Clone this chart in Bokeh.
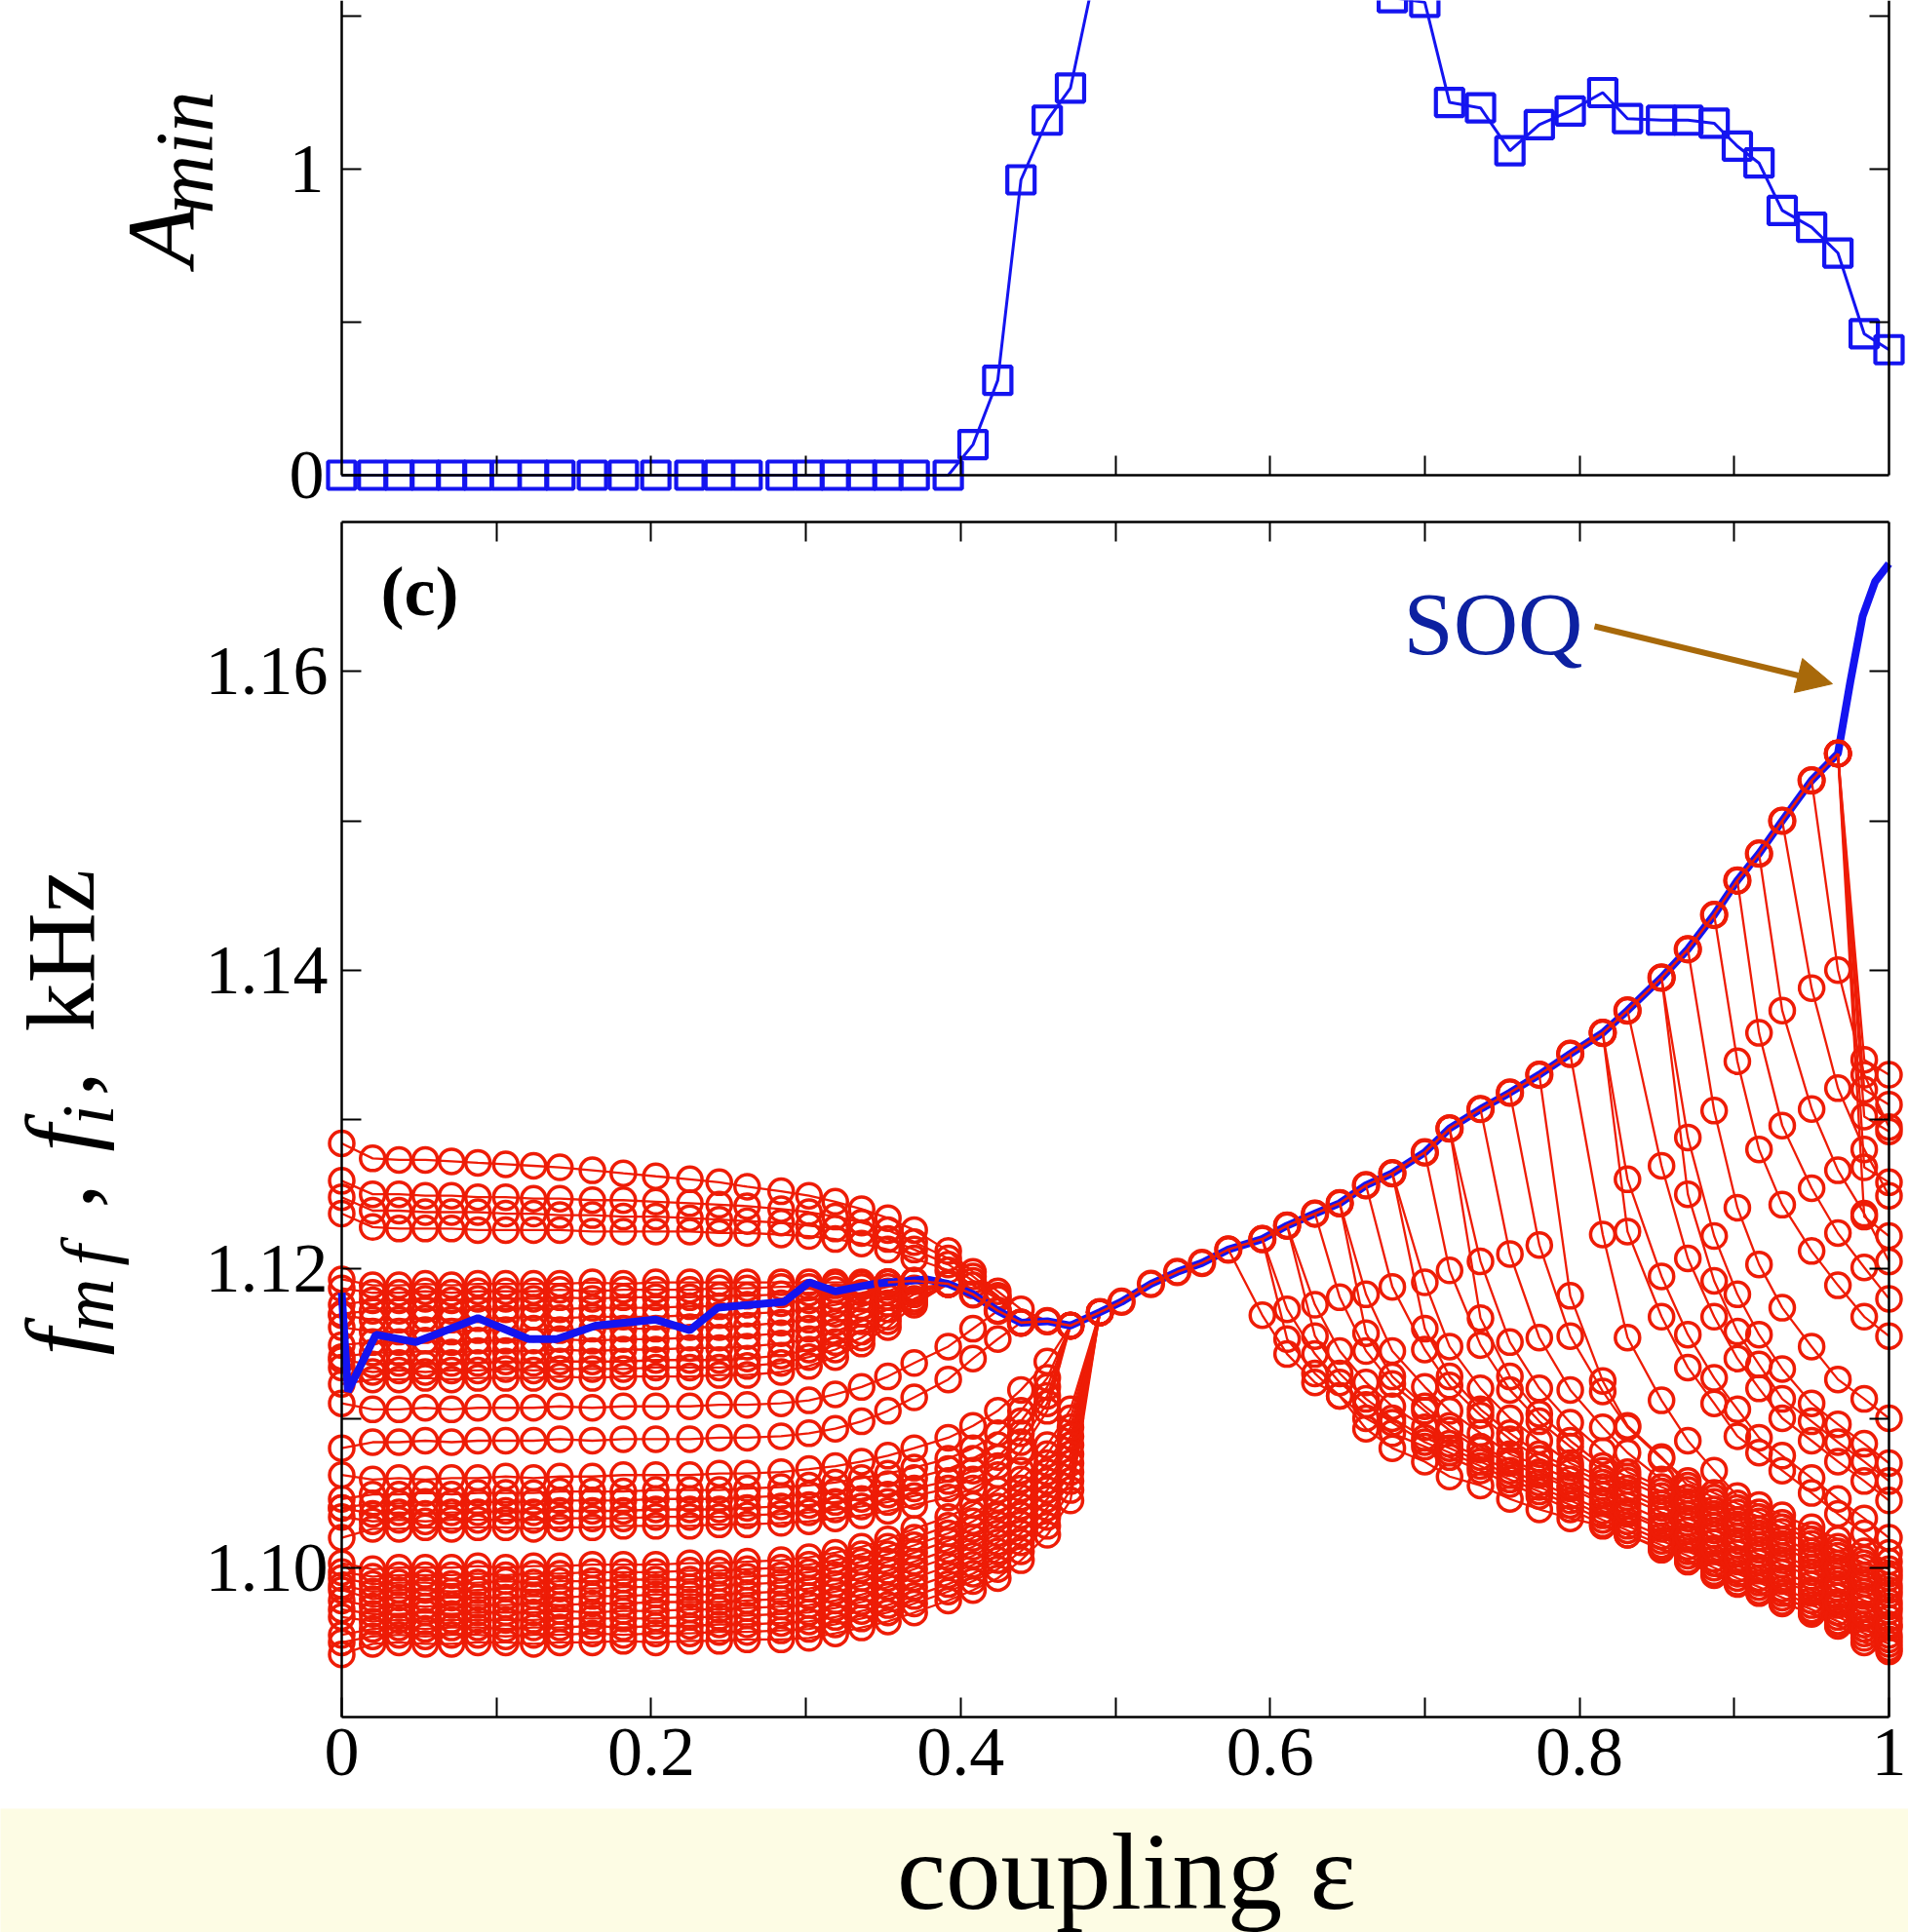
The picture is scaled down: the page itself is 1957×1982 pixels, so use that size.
import math
from bokeh.plotting import figure
from bokeh.models import Range1d, LinearAxis, FixedTicker, Label, Arrow, NormalHead
from bokeh.layouts import column
from bokeh.embed import file_html
from bokeh.resources import INLINE

# ------------------------------------------------------------------ data
# coupling values (shared x grid)
eps = [0.000, 0.020, 0.037, 0.054, 0.071, 0.088, 0.106, 0.124, 0.141, 0.162,
       0.182, 0.203, 0.225, 0.244, 0.262, 0.284, 0.302, 0.319, 0.336, 0.353,
       0.370, 0.392, 0.408, 0.424, 0.439, 0.456, 0.471, 0.490, 0.504, 0.523,
       0.540, 0.556, 0.573, 0.595, 0.611, 0.629, 0.645, 0.662, 0.679, 0.700,
       0.716, 0.736, 0.755, 0.774, 0.794, 0.815, 0.831, 0.853, 0.870, 0.887,
       0.902, 0.916, 0.931, 0.950, 0.967, 0.984, 1.000]

# top panel: A_min
A_min = [0, 0, 0, 0, 0, 0, 0, 0, 0, 0, 0, 0, 0, 0, 0, 0, 0, 0, 0, 0, 0,
         0.00, 0.10, 0.31, 0.965, 1.16, 1.265, 1.72, 1.95, 2.05, 2.10, 2.12,
         2.13, 2.12, 2.10, 2.08, 2.05, 2.00, 1.56, 1.545, 1.218, 1.20, 1.06,
         1.145, 1.19, 1.25, 1.165, 1.16, 1.16, 1.15, 1.075, 1.02, 0.865, 0.81,
         0.726, 0.462, 0.41]

# bottom panel: mean-field frequency f_mf (blue)
fmf_eps = [0.000, 0.004, 0.022, 0.048, 0.088, 0.121, 0.139, 0.164, 0.203, 0.225,
           0.243, 0.286, 0.302, 0.319, 0.344, 0.378,
           0.392, 0.408, 0.424, 0.439, 0.456, 0.471, 0.490, 0.504, 0.523, 0.540,
           0.556, 0.573, 0.595, 0.611, 0.629, 0.645, 0.662, 0.679, 0.700, 0.716,
           0.736, 0.755, 0.774, 0.794, 0.815, 0.831, 0.853, 0.870, 0.887, 0.902,
           0.916, 0.931, 0.950, 0.967, 0.975, 0.983, 0.991, 1.000]
f_mf = [1.1184, 1.1118, 1.1156, 1.1151, 1.1167, 1.1153, 1.1153, 1.1162, 1.1166, 1.1159,
        1.1174, 1.1178, 1.1191, 1.1185, 1.1190, 1.1193,
        1.1190, 1.1183, 1.1172, 1.1164, 1.1165, 1.1162, 1.1171, 1.1178, 1.1190, 1.1198,
        1.1204, 1.1213, 1.1220, 1.1229, 1.1237, 1.1244, 1.1256, 1.1264, 1.1278, 1.1294,
        1.1307, 1.1318, 1.1330, 1.1344, 1.1358, 1.1373, 1.1395, 1.1414, 1.1437, 1.1460,
        1.1478, 1.1500, 1.1527, 1.1545, 1.1593, 1.1637, 1.1660, 1.1672]

# synchronised cluster (all locked oscillators), starts at eps index 19
locked_from = 19
f_locked = [1.1191, 1.1192, 1.1190, 1.1183, 1.1172, 1.1164, 1.1165, 1.1162, 1.1171, 1.1178,
            1.1190, 1.1198, 1.1204, 1.1213, 1.1220, 1.1229, 1.1237, 1.1244, 1.1256, 1.1264,
            1.1278, 1.1294, 1.1307, 1.1318, 1.1330, 1.1344, 1.1358, 1.1373, 1.1395, 1.1414,
            1.1437, 1.1460, 1.1478, 1.1500, 1.1527, 1.1545]

# individual oscillator frequencies f_i (red):
#   *_pre  : from eps index 0 until locking
#   *_post : from the eps index *_from (desynchronisation) to eps = 1
f01_pre = [1.0942, 1.0949, 1.0950, 1.0949, 1.0949, 1.0950, 1.0950, 1.0949, 1.0950, 1.0950, 1.0951, 1.0950, 1.0951, 1.0951, 1.0952, 1.0952, 1.0953, 1.0956, 1.0960, 1.0964, 1.0970, 1.0978, 1.0985, 1.0993, 1.1005, 1.1022, 1.1045, 1.1171]
f02_pre = [1.0955, 1.0959, 1.0960, 1.0959, 1.0960, 1.0960, 1.0959, 1.0960, 1.0960, 1.0961, 1.0960, 1.0961, 1.0961, 1.0962, 1.0962, 1.0963, 1.0964, 1.0967, 1.0971, 1.0975, 1.0981, 1.0989, 1.0996, 1.1005, 1.1017, 1.1034, 1.1058, 1.1171]
f03_pre = [1.0972, 1.0969, 1.0969, 1.0970, 1.0969, 1.0970, 1.0970, 1.0970, 1.0971, 1.0970, 1.0971, 1.0971, 1.0972, 1.0972, 1.0973, 1.0974, 1.0975, 1.0978, 1.0982, 1.0987, 1.0993, 1.1001, 1.1008, 1.1017, 1.1029, 1.1046, 1.1070, 1.1171]
f04_pre = [1.0985, 1.0979, 1.0980, 1.0979, 1.0980, 1.0980, 1.0980, 1.0981, 1.0980, 1.0981, 1.0981, 1.0982, 1.0982, 1.0982, 1.0983, 1.0984, 1.0986, 1.0989, 1.0993, 1.0998, 1.1004, 1.1012, 1.1020, 1.1029, 1.1041, 1.1058, 1.1082, 1.1171]
f05_pre = [1.0993, 1.0989, 1.0990, 1.0990, 1.0989, 1.0990, 1.0991, 1.0990, 1.0991, 1.0991, 1.0992, 1.0992, 1.0992, 1.0993, 1.0994, 1.0995, 1.0997, 1.1000, 1.1004, 1.1009, 1.1015, 1.1023, 1.1031, 1.1041, 1.1053, 1.1070, 1.1094, 1.1171]
f06_pre = [1.1003, 1.0999, 1.1000, 1.1000, 1.1000, 1.1001, 1.1000, 1.1001, 1.1001, 1.1002, 1.1002, 1.1002, 1.1003, 1.1003, 1.1004, 1.1005, 1.1007, 1.1010, 1.1014, 1.1019, 1.1026, 1.1034, 1.1042, 1.1052, 1.1065, 1.1082, 1.1106, 1.1171]
f07_pre = [1.1020, 1.1026, 1.1026, 1.1027, 1.1026, 1.1027, 1.1027, 1.1026, 1.1027, 1.1027, 1.1028, 1.1028, 1.1028, 1.1029, 1.1029, 1.1030, 1.1031, 1.1033, 1.1035, 1.1038, 1.1042, 1.1047, 1.1053, 1.1062, 1.1078, 1.1105, 1.1162]
f08_pre = [1.1040, 1.1036, 1.1037, 1.1036, 1.1037, 1.1037, 1.1038, 1.1037, 1.1038, 1.1038, 1.1038, 1.1039, 1.1039, 1.1039, 1.1040, 1.1041, 1.1042, 1.1044, 1.1046, 1.1049, 1.1053, 1.1058, 1.1065, 1.1074, 1.1090, 1.1115, 1.1162]
f09_pre = [1.1046, 1.1049, 1.1049, 1.1050, 1.1049, 1.1050, 1.1050, 1.1050, 1.1051, 1.1051, 1.1051, 1.1052, 1.1052, 1.1052, 1.1053, 1.1054, 1.1055, 1.1057, 1.1060, 1.1063, 1.1067, 1.1073, 1.1080, 1.1090, 1.1105, 1.1127, 1.1162]
f10_pre = [1.1062, 1.1059, 1.1060, 1.1059, 1.1060, 1.1060, 1.1061, 1.1060, 1.1061, 1.1061, 1.1062, 1.1062, 1.1062, 1.1063, 1.1063, 1.1064, 1.1066, 1.1068, 1.1071, 1.1075, 1.1080, 1.1087, 1.1095, 1.1105, 1.1119, 1.1138, 1.1162]
f11_pre = [1.1080, 1.1084, 1.1084, 1.1085, 1.1084, 1.1085, 1.1085, 1.1085, 1.1086, 1.1085, 1.1086, 1.1086, 1.1086, 1.1087, 1.1087, 1.1088, 1.1090, 1.1093, 1.1098, 1.1105, 1.1114, 1.1126, 1.1140, 1.1153, 1.1164]
f12_pre = [1.1110, 1.1106, 1.1106, 1.1107, 1.1106, 1.1107, 1.1107, 1.1107, 1.1108, 1.1107, 1.1108, 1.1108, 1.1108, 1.1109, 1.1109, 1.1110, 1.1112, 1.1116, 1.1121, 1.1128, 1.1137, 1.1148, 1.1160, 1.1172]
f13_pre = [1.1123, 1.1126, 1.1126, 1.1127, 1.1126, 1.1127, 1.1127, 1.1127, 1.1128, 1.1127, 1.1128, 1.1128, 1.1128, 1.1129, 1.1129, 1.1131, 1.1135, 1.1141, 1.1150, 1.1161, 1.1176, 1.1190]
f14_pre = [1.1139, 1.1136, 1.1137, 1.1136, 1.1137, 1.1137, 1.1138, 1.1137, 1.1138, 1.1138, 1.1138, 1.1139, 1.1139, 1.1139, 1.1140, 1.1142, 1.1146, 1.1151, 1.1158, 1.1168, 1.1180, 1.1190]
f15_pre = [1.1149, 1.1151, 1.1151, 1.1152, 1.1151, 1.1152, 1.1152, 1.1152, 1.1153, 1.1152, 1.1153, 1.1153, 1.1154, 1.1154, 1.1155, 1.1157, 1.1160, 1.1164, 1.1170, 1.1177, 1.1185, 1.1190]
f16_pre = [1.1169, 1.1166, 1.1166, 1.1167, 1.1166, 1.1167, 1.1167, 1.1168, 1.1167, 1.1168, 1.1168, 1.1168, 1.1169, 1.1169, 1.1170, 1.1171, 1.1173, 1.1176, 1.1180, 1.1185, 1.1192]
f17_pre = [1.1176, 1.1179, 1.1179, 1.1180, 1.1179, 1.1180, 1.1180, 1.1180, 1.1181, 1.1180, 1.1181, 1.1181, 1.1181, 1.1182, 1.1182, 1.1183, 1.1184, 1.1186, 1.1188, 1.1191]
f18_pre = [1.1193, 1.1189, 1.1189, 1.1190, 1.1189, 1.1190, 1.1190, 1.1190, 1.1190, 1.1191, 1.1190, 1.1191, 1.1191, 1.1191, 1.1191, 1.1191, 1.1191, 1.1191, 1.1191, 1.1191]
f19_pre = [1.1237, 1.1228, 1.1227, 1.1227, 1.1227, 1.1226, 1.1226, 1.1226, 1.1226, 1.1225, 1.1225, 1.1225, 1.1225, 1.1224, 1.1224, 1.1223, 1.1222, 1.1220, 1.1217, 1.1213, 1.1207, 1.1199, 1.1189, 1.1180, 1.1164]
f20_pre = [1.1259, 1.1250, 1.1250, 1.1249, 1.1249, 1.1248, 1.1248, 1.1247, 1.1247, 1.1246, 1.1246, 1.1245, 1.1244, 1.1243, 1.1242, 1.1240, 1.1238, 1.1235, 1.1231, 1.1226, 1.1218, 1.1207, 1.1195, 1.1182, 1.1164]
f21_pre = [1.1284, 1.1274, 1.1273, 1.1273, 1.1272, 1.1271, 1.1270, 1.1269, 1.1268, 1.1266, 1.1264, 1.1262, 1.1260, 1.1258, 1.1255, 1.1252, 1.1249, 1.1245, 1.1240, 1.1234, 1.1226, 1.1212, 1.1198, 1.1185, 1.1173, 1.1165]
f22_pre = [1.0950, 1.0954, 1.0955, 1.0954, 1.0955, 1.0955, 1.0954, 1.0955, 1.0955, 1.0956, 1.0955, 1.0956, 1.0956, 1.0957, 1.0957, 1.0958, 1.0959, 1.0962, 1.0966, 1.0970, 1.0976, 1.0984, 1.0991, 1.0999, 1.1011, 1.1028, 1.1052, 1.1171]
f23_pre = [1.0967, 1.0964, 1.0965, 1.0964, 1.0965, 1.0965, 1.0965, 1.0965, 1.0966, 1.0966, 1.0966, 1.0966, 1.0967, 1.0967, 1.0968, 1.0969, 1.0970, 1.0973, 1.0977, 1.0981, 1.0987, 1.0995, 1.1002, 1.1011, 1.1023, 1.1040, 1.1064, 1.1171]
f24_pre = [1.0978, 1.0974, 1.0975, 1.0974, 1.0975, 1.0975, 1.0975, 1.0976, 1.0975, 1.0976, 1.0976, 1.0977, 1.0977, 1.0977, 1.0978, 1.0979, 1.0981, 1.0984, 1.0988, 1.0993, 1.0999, 1.1007, 1.1014, 1.1023, 1.1035, 1.1052, 1.1076, 1.1171]
f25_pre = [1.0988, 1.0984, 1.0985, 1.0985, 1.0984, 1.0985, 1.0986, 1.0985, 1.0986, 1.0986, 1.0987, 1.0987, 1.0987, 1.0988, 1.0989, 1.0990, 1.0992, 1.0995, 1.0999, 1.1004, 1.1010, 1.1018, 1.1026, 1.1035, 1.1047, 1.1064, 1.1088, 1.1171]
f26_pre = [1.0997, 1.0994, 1.0995, 1.0995, 1.0995, 1.0996, 1.0995, 1.0996, 1.0996, 1.0997, 1.0997, 1.0997, 1.0998, 1.0998, 1.0999, 1.1000, 1.1002, 1.1005, 1.1009, 1.1014, 1.1020, 1.1028, 1.1036, 1.1046, 1.1059, 1.1076, 1.1100, 1.1171]
f27_pre = [1.1034, 1.1031, 1.1032, 1.1031, 1.1032, 1.1032, 1.1032, 1.1032, 1.1033, 1.1033, 1.1033, 1.1034, 1.1034, 1.1034, 1.1035, 1.1036, 1.1037, 1.1039, 1.1041, 1.1044, 1.1048, 1.1053, 1.1059, 1.1068, 1.1084, 1.1110, 1.1162]
f28_pre = [1.1040, 1.1043, 1.1043, 1.1044, 1.1043, 1.1044, 1.1044, 1.1044, 1.1045, 1.1045, 1.1045, 1.1046, 1.1046, 1.1046, 1.1047, 1.1048, 1.1049, 1.1051, 1.1053, 1.1056, 1.1060, 1.1066, 1.1073, 1.1082, 1.1098, 1.1121, 1.1162]
f29_pre = [1.1134, 1.1131, 1.1132, 1.1131, 1.1132, 1.1132, 1.1133, 1.1132, 1.1133, 1.1133, 1.1133, 1.1134, 1.1134, 1.1134, 1.1135, 1.1137, 1.1141, 1.1146, 1.1154, 1.1165, 1.1178, 1.1190]
f30_pre = [1.1141, 1.1144, 1.1144, 1.1145, 1.1144, 1.1145, 1.1145, 1.1145, 1.1146, 1.1145, 1.1146, 1.1146, 1.1147, 1.1147, 1.1148, 1.1150, 1.1153, 1.1158, 1.1165, 1.1173, 1.1183, 1.1190]
f31_pre = [1.1161, 1.1158, 1.1158, 1.1159, 1.1158, 1.1159, 1.1159, 1.1160, 1.1159, 1.1160, 1.1160, 1.1160, 1.1161, 1.1161, 1.1162, 1.1164, 1.1166, 1.1170, 1.1175, 1.1181, 1.1187, 1.1190]
f32_pre = [1.1170, 1.1172, 1.1172, 1.1173, 1.1172, 1.1173, 1.1173, 1.1174, 1.1173, 1.1174, 1.1174, 1.1174, 1.1175, 1.1175, 1.1176, 1.1177, 1.1179, 1.1181, 1.1184, 1.1188, 1.1192]
f33_pre = [1.1187, 1.1184, 1.1184, 1.1185, 1.1184, 1.1185, 1.1185, 1.1185, 1.1186, 1.1185, 1.1186, 1.1186, 1.1186, 1.1187, 1.1187, 1.1188, 1.1188, 1.1189, 1.1190, 1.1191]
f34_pre = [1.1248, 1.1239, 1.1239, 1.1238, 1.1238, 1.1238, 1.1237, 1.1237, 1.1236, 1.1236, 1.1235, 1.1235, 1.1234, 1.1233, 1.1232, 1.1231, 1.1229, 1.1227, 1.1224, 1.1220, 1.1213, 1.1203, 1.1192, 1.1181, 1.1164]

f01_from, f01_post = 32, [1.1213, 1.1169, 1.1143, 1.1124, 1.1115, 1.1093, 1.1080, 1.1071, 1.1061, 1.1055, 1.1046, 1.1039, 1.1033, 1.1028, 1.1022, 1.1013, 1.1004, 1.0995, 1.0989, 1.0983, 1.0976, 1.0970, 1.0962, 1.0950, 1.0944]
f02_from, f02_post = 33, [1.1220, 1.1173, 1.1143, 1.1124, 1.1109, 1.1097, 1.1084, 1.1077, 1.1068, 1.1059, 1.1051, 1.1042, 1.1032, 1.1025, 1.1015, 1.1008, 1.1000, 1.0993, 1.0987, 1.0980, 1.0972, 1.0964, 1.0956, 1.0949]
f03_from, f03_post = 34, [1.1229, 1.1176, 1.1145, 1.1124, 1.1108, 1.1094, 1.1083, 1.1074, 1.1065, 1.1057, 1.1048, 1.1038, 1.1031, 1.1021, 1.1014, 1.1006, 1.0999, 1.0993, 1.0986, 1.0978, 1.0970, 1.0962, 1.0955]
f04_from, f04_post = 35, [1.1237, 1.1181, 1.1145, 1.1123, 1.1105, 1.1092, 1.1079, 1.1070, 1.1062, 1.1053, 1.1043, 1.1036, 1.1026, 1.1019, 1.1011, 1.1004, 1.0998, 1.0991, 1.0983, 1.0975, 1.0967, 1.0960]
f05_from, f05_post = 36, [1.1244, 1.1183, 1.1145, 1.1121, 1.1105, 1.1090, 1.1076, 1.1068, 1.1059, 1.1049, 1.1042, 1.1032, 1.1025, 1.1017, 1.1010, 1.1004, 1.0997, 1.0989, 1.0981, 1.0973, 1.0966]
f06_from, f06_post = 37, [1.1256, 1.1188, 1.1146, 1.1122, 1.1102, 1.1086, 1.1073, 1.1064, 1.1054, 1.1047, 1.1037, 1.1030, 1.1022, 1.1015, 1.1009, 1.1002, 1.0994, 1.0986, 1.0978, 1.0971]
f07_from, f07_post = 38, [1.1264, 1.1191, 1.1148, 1.1120, 1.1100, 1.1085, 1.1070, 1.1060, 1.1053, 1.1043, 1.1036, 1.1028, 1.1021, 1.1015, 1.1008, 1.1000, 1.0992, 1.0984, 1.0977]
f08_from, f08_post = 39, [1.1278, 1.1199, 1.1149, 1.1119, 1.1098, 1.1081, 1.1065, 1.1058, 1.1048, 1.1041, 1.1033, 1.1026, 1.1020, 1.1013, 1.1005, 1.0997, 1.0989, 1.0982]
f09_from, f09_post = 40, [1.1294, 1.1205, 1.1151, 1.1120, 1.1097, 1.1078, 1.1064, 1.1054, 1.1047, 1.1039, 1.1032, 1.1026, 1.1019, 1.1011, 1.1003, 1.0995, 1.0988]
f10_from, f10_post = 41, [1.1307, 1.1210, 1.1154, 1.1119, 1.1094, 1.1077, 1.1059, 1.1052, 1.1044, 1.1037, 1.1031, 1.1024, 1.1016, 1.1008, 1.1000, 1.0993]
f11_from, f11_post = 42, [1.1318, 1.1216, 1.1155, 1.1118, 1.1094, 1.1073, 1.1058, 1.1050, 1.1043, 1.1037, 1.1030, 1.1022, 1.1014, 1.1006, 1.0999]
f12_from, f12_post = 44, [1.1344, 1.1223, 1.1154, 1.1112, 1.1085, 1.1065, 1.1048, 1.1042, 1.1035, 1.1027, 1.1019, 1.1011, 1.1004]
f13_from, f13_post = 45, [1.1358, 1.1260, 1.1195, 1.1156, 1.1127, 1.1106, 1.1087, 1.1075, 1.1060, 1.1046, 1.1033, 1.1020]
f14_from, f14_post = 46, [1.1373, 1.1269, 1.1207, 1.1168, 1.1140, 1.1120, 1.1100, 1.1085, 1.1071, 1.1058, 1.1045]
f15_from, f15_post = 47, [1.1395, 1.1288, 1.1222, 1.1183, 1.1156, 1.1133, 1.1110, 1.1096, 1.1083, 1.1070]
f16_from, f16_post = 48, [1.1414, 1.1306, 1.1241, 1.1203, 1.1174, 1.1148, 1.1126, 1.1113, 1.1100]
f17_from, f17_post = 49, [1.1437, 1.1339, 1.1280, 1.1243, 1.1212, 1.1189, 1.1168, 1.1155]
f18_from, f18_post = 51, [1.1478, 1.1373, 1.1307, 1.1266, 1.1237, 1.1205]
f19_from, f19_post = 54, [1.1545, 1.1268, 1.1258]
f20_from, f20_post = 54, [1.1545, 1.1302, 1.1292]
f21_from, f21_post = 54, [1.1545, 1.1340, 1.1330]
f22_from, f22_post = 33, [1.1220, 1.1153, 1.1130, 1.1115, 1.1100, 1.1090, 1.1081, 1.1074, 1.1065, 1.1056, 1.1048, 1.1039, 1.1029, 1.1022, 1.1012, 1.1005, 1.0997, 1.0990, 1.0984, 1.0977, 1.0969, 1.0961, 1.0953, 1.0946]
f23_from, f23_post = 34, [1.1229, 1.1155, 1.1130, 1.1113, 1.1100, 1.1087, 1.1080, 1.1071, 1.1062, 1.1054, 1.1045, 1.1035, 1.1028, 1.1018, 1.1011, 1.1003, 1.0996, 1.0990, 1.0983, 1.0975, 1.0967, 1.0959, 1.0952]
f24_from, f24_post = 36, [1.1244, 1.1157, 1.1128, 1.1108, 1.1095, 1.1081, 1.1072, 1.1064, 1.1055, 1.1045, 1.1038, 1.1028, 1.1021, 1.1013, 1.1006, 1.1000, 1.0993, 1.0985, 1.0977, 1.0969, 1.0962]
f25_from, f25_post = 38, [1.1264, 1.1160, 1.1128, 1.1106, 1.1090, 1.1076, 1.1067, 1.1057, 1.1050, 1.1040, 1.1033, 1.1025, 1.1018, 1.1012, 1.1005, 1.0997, 1.0989, 1.0981, 1.0974]
f26_from, f26_post = 40, [1.1294, 1.1167, 1.1128, 1.1103, 1.1085, 1.1068, 1.1061, 1.1051, 1.1044, 1.1036, 1.1029, 1.1023, 1.1016, 1.1008, 1.1000, 1.0992, 1.0985]
f27_from, f27_post = 43, [1.1330, 1.1182, 1.1125, 1.1095, 1.1074, 1.1055, 1.1047, 1.1040, 1.1034, 1.1027, 1.1019, 1.1011, 1.1003, 1.0996]
f28_from, f28_post = 45, [1.1358, 1.1225, 1.1168, 1.1134, 1.1110, 1.1088, 1.1077, 1.1065, 1.1050, 1.1036, 1.1023, 1.1010]
f29_from, f29_post = 47, [1.1395, 1.1250, 1.1192, 1.1158, 1.1136, 1.1113, 1.1098, 1.1084, 1.1071, 1.1058]
f30_from, f30_post = 50, [1.1460, 1.1358, 1.1296, 1.1254, 1.1224, 1.1201, 1.1180]
f31_from, f31_post = 52, [1.1500, 1.1388, 1.1321, 1.1280, 1.1249]
f32_from, f32_post = 53, [1.1527, 1.1400, 1.1330, 1.1295]
f33_from, f33_post = 54, [1.1545, 1.1235, 1.1222]
f34_from, f34_post = 54, [1.1545, 1.1320, 1.1310]

# tick labels
x_tick_vals = [0, 0.2, 0.4, 0.6, 0.8, 1]
x_tick_text = ["0", "0.2", "0.4", "0.6", "0.8", "1"]
f_tick_vals = [1.10, 1.12, 1.14, 1.16]
f_tick_text = ["1.10", "1.12", "1.14", "1.16"]
a_tick_vals = [0, 1]
a_tick_text = ["0", "1"]

pre_sets = [f01_pre, f02_pre, f03_pre, f04_pre, f05_pre, f06_pre, f07_pre,
            f08_pre, f09_pre, f10_pre, f11_pre, f12_pre, f13_pre, f14_pre,
            f15_pre, f16_pre, f17_pre, f18_pre, f19_pre, f20_pre, f21_pre,
            f22_pre, f23_pre, f24_pre, f25_pre, f26_pre, f27_pre, f28_pre,
            f29_pre, f30_pre, f31_pre, f32_pre, f33_pre, f34_pre]
post_sets = [(f01_from, f01_post), (f02_from, f02_post), (f03_from, f03_post),
             (f04_from, f04_post), (f05_from, f05_post), (f06_from, f06_post),
             (f07_from, f07_post), (f08_from, f08_post), (f09_from, f09_post),
             (f10_from, f10_post), (f11_from, f11_post), (f12_from, f12_post),
             (f13_from, f13_post), (f14_from, f14_post), (f15_from, f15_post),
             (f16_from, f16_post), (f17_from, f17_post), (f18_from, f18_post),
             (f19_from, f19_post), (f20_from, f20_post), (f21_from, f21_post),
             (f22_from, f22_post), (f23_from, f23_post), (f24_from, f24_post),
             (f25_from, f25_post), (f26_from, f26_post), (f27_from, f27_post),
             (f28_from, f28_post), (f29_from, f29_post), (f30_from, f30_post),
             (f31_from, f31_post), (f32_from, f32_post), (f33_from, f33_post),
             (f34_from, f34_post)]

# ------------------------------------------------------------------ styling / layout
W = 1957
H_TOP, H_MID, H_BAND = 530, 1325, 127
RED = "#EE1C06"
BLUE = "#1414F0"
SERIF = "Liberation Serif"
TICK_FS = "72px"
BASE_SHIFT = 0.33        # label baseline correction (fraction of font size)

# pixel <-> data helpers for the frames (frame == whole figure)
X0_PX, PX_PER_EPS = 350.0, 1587.0
def ex(px):
    return (px - X0_PX) / PX_PER_EPS

A0_PX, PX_PER_A = 487.0, 314.0
def ay(py):
    return (A0_PX - py) / PX_PER_A

F_TOP_PX, PX_PER_F = 535.0, 15325.0     # f = 1.17 at page y 535
def fy(py):
    return 1.17 - (py - F_TOP_PX) / PX_PER_F


def base_fig(h, xr, yr, bg="white"):
    p = figure(width=W, height=h, x_range=xr, y_range=yr, output_backend="svg",
               toolbar_location=None, tools="", title=None,
               x_axis_type=None, y_axis_type=None)
    p.min_border = 0
    p.min_border_left = p.min_border_right = p.min_border_top = p.min_border_bottom = 0
    p.outline_line_color = None
    p.background_fill_color = bg
    p.border_fill_color = bg
    return p


def make_axis(loc, bounds, ticks, minor, texts=None, standoff=10):
    ax = LinearAxis(fixed_location=loc, bounds=bounds,
                    ticker=FixedTicker(ticks=ticks, minor_ticks=minor))
    ax.axis_line_width = 2.5
    ax.axis_line_color = "black"
    ax.major_tick_in, ax.major_tick_out = 20, 0
    ax.minor_tick_in, ax.minor_tick_out = 20, 0
    ax.major_tick_line_width = 2
    ax.minor_tick_line_width = 2
    ax.major_tick_line_color = "black"
    ax.minor_tick_line_color = "black"
    ax.major_label_text_font = SERIF
    ax.major_label_text_font_size = TICK_FS
    ax.major_label_text_color = "black"
    ax.major_label_standoff = standoff
    if texts is not None:
        ax.major_label_overrides = {v: t for v, t in zip(ticks, texts)}
    return ax


def rot_label(p, text, px, py, yconv, size, style="italic", color="black"):
    # px = page x of the (vertical) baseline, py = page y where the text starts
    p.add_layout(Label(x=ex(px - BASE_SHIFT * size), y=yconv(py), text=text,
                       angle=math.pi / 2, text_font=SERIF, text_font_style=style,
                       text_font_size=f"{size}px", text_color=color,
                       text_align="left", text_baseline="alphabetic"))


def flat_label(p, text, px, py, yconv, size, color="black", style="normal"):
    p.add_layout(Label(x=ex(px), y=yconv(py - BASE_SHIFT * size), text=text,
                       text_font=SERIF, text_font_style=style,
                       text_font_size=f"{size}px", text_color=color,
                       text_align="left", text_baseline="alphabetic"))


# ------------------------------------------------------------------ top panel (A_min)
pa = base_fig(H_TOP, Range1d(ex(0), ex(W)), Range1d(ay(H_TOP), ay(0)))
pa.line(eps, A_min, line_color=BLUE, line_width=3)
pa.scatter(eps, A_min, marker="square", size=28, fill_color=None,
           line_color=BLUE, line_width=4.2)

pa.add_layout(make_axis(0, (0, 1.56), a_tick_vals, [0.5, 1.5], a_tick_text, standoff=18), "left")
pa.add_layout(make_axis(1, (0, 1.56), [], [0.5, 1.0, 1.5]), "right")
pa.add_layout(make_axis(0, (0, 1), [], [0.1, 0.2, 0.3, 0.4, 0.5, 0.6, 0.7, 0.8, 0.9]), "below")

rot_label(pa, "A", 198, 273, ay, 100)
rot_label(pa, "min", 217, 219, ay, 84)

# ------------------------------------------------------------------ bottom panel (frequencies)
pb = base_fig(H_MID, Range1d(ex(0), ex(W)), Range1d(fy(H_TOP + H_MID), fy(H_TOP)))

RED_LW, CIRC_SIZE, CIRC_LW = 2.3, 25, 3.5

# red: unlocked oscillators before synchronisation
pre_xs = [eps[:len(s)] for s in pre_sets]
pb.multi_line(pre_xs, pre_sets, line_color=RED, line_width=RED_LW)
pb.scatter([x for xs in pre_xs for x in xs], [y for s in pre_sets for y in s],
           marker="circle", size=CIRC_SIZE, fill_color=None, line_color=RED, line_width=CIRC_LW)

# blue: mean-field frequency
pb.line(fmf_eps, f_mf, line_color=BLUE, line_width=8)

# red: synchronised cluster
lock_x = eps[locked_from:locked_from + len(f_locked)]
pb.line(lock_x, f_locked, line_color=RED, line_width=2.6)
pb.scatter(lock_x, f_locked, marker="circle", size=CIRC_SIZE, fill_color=None,
           line_color=RED, line_width=4.2)

# red: oscillators after desynchronisation
post_xs = [eps[i0:i0 + len(s)] for i0, s in post_sets]
post_ys = [s for _, s in post_sets]
pb.multi_line(post_xs, post_ys, line_color=RED, line_width=RED_LW)
pb.scatter([x for xs in post_xs for x in xs], [y for s in post_ys for y in s],
           marker="circle", size=CIRC_SIZE, fill_color=None, line_color=RED, line_width=CIRC_LW)

minor_x = [0.1, 0.3, 0.5, 0.7, 0.9]
all_x = [0.1, 0.2, 0.3, 0.4, 0.5, 0.6, 0.7, 0.8, 0.9]
pb.add_layout(make_axis(1.09, (0, 1), x_tick_vals, minor_x, x_tick_text, standoff=12), "below")
pb.add_layout(make_axis(1.17, (0, 1), [], all_x), "above")
pb.add_layout(make_axis(0, (1.09, 1.17), f_tick_vals, [1.11, 1.13, 1.15], f_tick_text, standoff=14), "left")
pb.add_layout(make_axis(1, (1.09, 1.17), [], [1.10, 1.11, 1.12, 1.13, 1.14, 1.15, 1.16]), "right")

# y-axis label  f_mf, f_i,  kHz
rot_label(pb, "f", 95, 1390, fy, 100)
rot_label(pb, "m", 115, 1366, fy, 76)
rot_label(pb, "f", 115, 1298, fy, 76)
rot_label(pb, ",", 95, 1239, fy, 100, style="normal")
rot_label(pb, "f", 95, 1181, fy, 100)
rot_label(pb, "i", 115, 1154, fy, 76)
rot_label(pb, ",", 95, 1124, fy, 100, style="normal")
rot_label(pb, "kHz", 95, 1058, fy, 100, style="normal")

flat_label(pb, "(c)", 390, 630, fy, 72, style="bold")
flat_label(pb, "SOQ", 1439, 670, fy, 92, color="#0D21A1")
BROWN = "#A8690A"
pb.add_layout(Arrow(end=NormalHead(size=36, fill_color=BROWN, line_color=BROWN, line_width=1),
                    x_start=ex(1635), y_start=fy(642), x_end=ex(1879), y_end=fy(701),
                    line_color=BROWN, line_width=6))

# ------------------------------------------------------------------ x label band
BAND_FS = 113
pc = base_fig(H_BAND, Range1d(0, W), Range1d(0, H_BAND), bg="#FDFCE4")
pc.add_layout(Label(x=1155, y=(1982 - 1956) + BASE_SHIFT * BAND_FS, text="coupling ε",
                    text_font=SERIF, text_font_size=f"{BAND_FS}px", text_color="black",
                    text_align="center", text_baseline="alphabetic"))

layout = column(pa, pb, pc, spacing=0)
open("out.html", "w").write(file_html(layout, INLINE))
